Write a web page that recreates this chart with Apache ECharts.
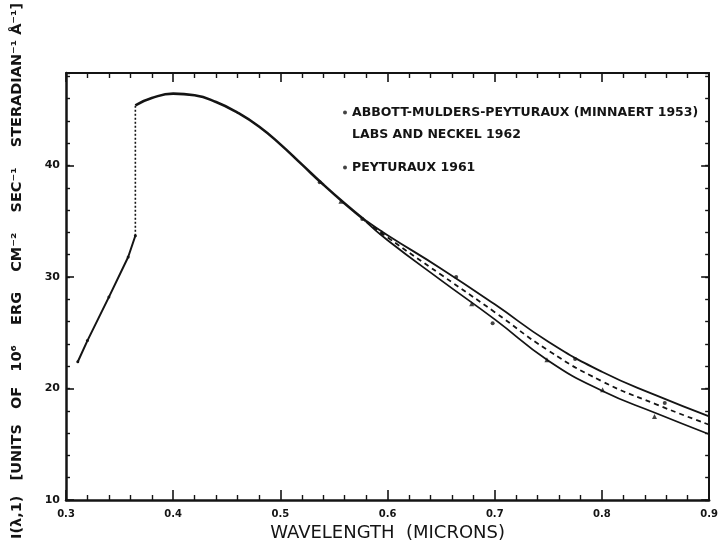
<!DOCTYPE html>
<html>
<head>
<meta charset="utf-8">
<script src="https://cdn.jsdelivr.net/npm/echarts@6/dist/echarts.min.js"></script>
<style>
html,body{margin:0;padding:0;background:#ffffff;}
#chart{width:721px;height:547px;}
</style>
</head>
<body>
<div id="chart"></div>
<script>
// ---- data ----
const uvLambda = [0.311, 0.320, 0.340, 0.358, 0.3647];
const uvIntensity = [22.4, 24.3, 28.2, 31.8, 33.7];
const jumpLambda = [0.3647, 0.3647];
const jumpIntensity = [33.7, 45.4];
const visLambda = [0.3647, 0.38, 0.40, 0.42, 0.44, 0.46, 0.48, 0.50, 0.52, 0.54, 0.56, 0.58];
const visIntensity = [45.4, 46.05, 46.45, 46.3, 45.7, 44.75, 43.5, 41.9, 40.1, 38.3, 36.6, 35.0];
const redLambda = [0.58, 0.60, 0.65, 0.70, 0.75, 0.80, 0.85, 0.90];
const upperIntensity = [35.05, 33.75, 30.75, 27.55, 24.2, 21.5, 19.4, 17.5];
const dashedIntensity = [35.0, 33.55, 30.2, 26.85, 23.4, 20.65, 18.6, 16.75];
const lowerIntensity = [34.95, 33.3, 29.7, 26.2, 22.5, 19.8, 17.8, 15.9];
const abbottLambda = [0.5367, 0.5764, 0.664, 0.698, 0.775, 0.8586];
const abbottIntensity = [38.5, 35.2, 30.0, 25.85, 22.64, 18.7];
const peyturauxLambda = [0.5565, 0.5947, 0.6785, 0.7487, 0.8006, 0.849];
const peyturauxIntensity = [36.8, 34.0, 27.6, 22.58, 19.9, 17.5];
const xTickLabels = ['0.3', '0.4', '0.5', '0.6', '0.7', '0.8', '0.9'];
const yTickLabels = [10, 20, 30, 40];
const xTitle = 'WAVELENGTH  (MICRONS)';
const yTitle = 'I(λ,1)   [UNITS   OF   10⁶    ERG    CM⁻²    SEC⁻¹    STERADIAN⁻¹ Å⁻¹]';
const nameAbbott = 'ABBOTT-MULDERS-PEYTURAUX (MINNAERT 1953)';
const nameLabs = 'LABS AND NECKEL 1962';
const namePeyturaux = 'PEYTURAUX 1961';

function pairs(xs, ys) { return xs.map((x, i) => [x, ys[i]]); }

const INK = '#141414';
const FONT = 'DejaVu Sans';

const xBase = {
  type: 'value', min: 0.3, max: 0.9, interval: 0.1,
  splitLine: {show: false},
  axisLine: {onZero: false, lineStyle: {color: INK, width: 2.5}},
  axisTick: {inside: true, length: 10, lineStyle: {color: INK, width: 1.6}},
  minorTick: {show: true, splitNumber: 5, length: 5, lineStyle: {color: INK, width: 1.4}},
  minorSplitLine: {show: false}
};
const yBase = {
  type: 'value', min: 10, max: 48.3, interval: 2,
  splitLine: {show: false},
  axisLine: {onZero: false, lineStyle: {color: INK, width: 2.5}},
  axisTick: {inside: true, length: 4, lineStyle: {color: INK, width: 1.4}},
  axisLabel: {show: false}
};
const lineSmooth = 0.5;

const chart = echarts.init(document.getElementById('chart'));
chart.setOption({
  backgroundColor: '#ffffff',
  animation: false,
  grid: {left: 66, right: 6, top: 73, bottom: 44, containLabel: false},
  xAxis: [
    Object.assign({}, xBase, {
      position: 'bottom',
      axisLabel: {
        color: INK, fontFamily: FONT, fontWeight: 'bold', fontSize: 10, margin: 9,
        formatter: (v) => xTickLabels[Math.round((v - 0.3) * 10)] || ''
      },
      name: xTitle, nameLocation: 'middle', nameGap: 24,
      nameTextStyle: {color: INK, fontFamily: FONT, fontSize: 18}
    }),
    Object.assign({}, xBase, {
      position: 'top',
      axisLine: {onZero: false, lineStyle: {color: INK, width: 2}},
      axisTick: {inside: true, length: 9, lineStyle: {color: INK, width: 1.6}},
      axisLabel: {show: false}
    })
  ],
  yAxis: [
    Object.assign({}, yBase, {
      position: 'left',
      axisLabel: {
        show: true, color: INK, fontFamily: FONT, fontWeight: 'bold', fontSize: 11, margin: 6,
        customValues: yTickLabels,
        formatter: (v) => String(v)
      }
    }),
    Object.assign({}, yBase, {
      position: 'left',
      axisLine: {show: false},
      axisTick: {inside: true, length: 8, customValues: yTickLabels, lineStyle: {color: INK, width: 1.6}}
    }),
    Object.assign({}, yBase, {
      position: 'right',
      axisLine: {onZero: false, lineStyle: {color: INK, width: 2}}
    }),
    Object.assign({}, yBase, {
      position: 'right',
      axisLine: {show: false},
      axisTick: {inside: true, length: 8, customValues: yTickLabels, lineStyle: {color: INK, width: 1.6}}
    })
  ],
  legend: [
    {
      left: 343, top: 106, orient: 'vertical', itemGap: 9, padding: 0,
      itemWidth: 4, itemHeight: 4, selectedMode: false,
      textStyle: {color: INK, fontFamily: FONT, fontWeight: 'bold', fontSize: 12.5},
      data: [
        {name: nameAbbott, icon: 'circle', itemStyle: {color: INK}},
        {name: nameLabs, icon: 'circle', itemStyle: {color: INK, opacity: 0}}
      ]
    },
    {
      left: 343, top: 161, orient: 'vertical', padding: 0,
      itemWidth: 4, itemHeight: 4, selectedMode: false,
      textStyle: {color: INK, fontFamily: FONT, fontWeight: 'bold', fontSize: 12.5},
      data: [{name: namePeyturaux, icon: 'circle', itemStyle: {color: INK}}]
    }
  ],
  graphic: [{
    type: 'text', x: 17, y: 271, rotation: Math.PI / 2,
    style: {
      text: yTitle, fill: INK, font: 'bold 14.5px "DejaVu Sans"',
      align: 'center', verticalAlign: 'middle'
    }
  }],
  series: [
    {
      type: 'line', name: 'uv', data: pairs(uvLambda, uvIntensity),
      symbol: 'circle', symbolSize: 3, showSymbol: true,
      itemStyle: {color: INK}, lineStyle: {color: INK, width: 2}, z: 3
    },
    {
      type: 'line', name: 'jump', data: pairs(jumpLambda, jumpIntensity),
      symbol: 'none', lineStyle: {color: INK, width: 1.6, type: [2, 2]}
    },
    {
      type: 'line', name: 'visible', data: pairs(visLambda, visIntensity),
      symbol: 'none', smooth: lineSmooth,
      lineStyle: {color: INK, width: 2.6}
    },
    {
      type: 'line', name: 'upper', data: pairs(redLambda, upperIntensity),
      symbol: 'none', smooth: lineSmooth,
      lineStyle: {color: INK, width: 1.8}
    },
    {
      type: 'line', name: nameLabs, data: pairs(redLambda, dashedIntensity),
      symbol: 'none', smooth: lineSmooth, itemStyle: {color: INK},
      lineStyle: {color: INK, width: 1.8, type: [5, 4]}
    },
    {
      type: 'line', name: 'lower', data: pairs(redLambda, lowerIntensity),
      symbol: 'none', smooth: lineSmooth,
      lineStyle: {color: INK, width: 1.8}
    },
    {
      type: 'scatter', name: nameAbbott, data: pairs(abbottLambda, abbottIntensity),
      symbol: 'circle', symbolSize: 4, itemStyle: {color: INK}, z: 4
    },
    {
      type: 'scatter', name: namePeyturaux, data: pairs(peyturauxLambda, peyturauxIntensity),
      symbol: 'triangle', symbolSize: 5, itemStyle: {color: INK}, z: 4
    }
  ]
});
</script>
</body>
</html>
